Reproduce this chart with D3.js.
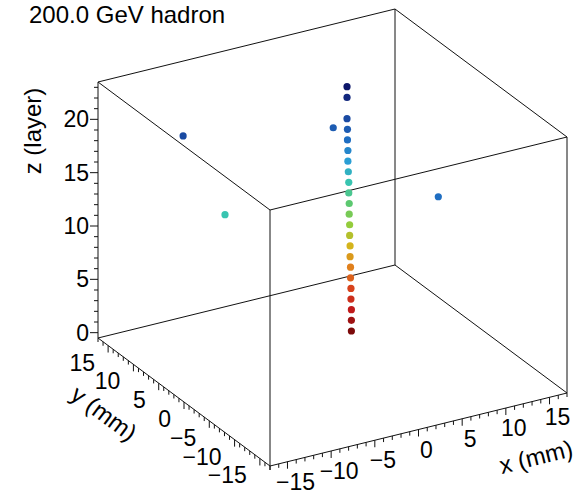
<!DOCTYPE html>
<html>
<head>
<meta charset="utf-8">
<script src="https://cdn.jsdelivr.net/npm/d3@7"></script>
<style>
  body { margin: 0; background: #fff; }
  svg text { font-family: "Liberation Sans", Arial, sans-serif; fill: #000; }
</style>
</head>
<body>
<div id="chart"></div>
<script>
// hits: x (mm), y (mm), z (layer)
const hitX = [5.0, 5.0, 5.0, 4.95, 4.95, 4.9, 4.9, 4.85, 4.85, 4.8, 4.8, 4.75, 4.75, 4.7, 4.7, 4.65, 4.6, 4.6, 4.55, 4.55, 4.5, 4.5, 4.5,
              -11.6, 3.5, 5.8, -9.7]
const hitY = [4.9, 4.9, 4.9, 4.9, 4.9, 4.9, 4.9, 4.9, 4.9, 4.9, 4.9, 4.9, 4.9, 4.9, 4.9, 4.9, 4.9, 4.9, 4.9, 4.9, 4.9, 4.9, 4.9,
              9.5, 5.9, -10.9, 4.5]
const hitZ = [0, 1, 2, 3, 4, 5, 6, 7, 8, 9, 10, 11, 12, 13, 14, 15, 16, 17, 18, 19, 20, 22, 23,
              20, 19, 18, 14]

const xTicks = [-15, -10, -5, 0, 5, 10, 15]
const yTicks = [-15, -10, -5, 0, 5, 10, 15]
const zTicks = [0, 5, 10, 15, 20]

const title = '200.0 GeV hadron'

const width = 582
const height = 494

const svg = d3.select('#chart')
  .append('svg')
  .attr('width', width)
  .attr('height', height)

// axis ranges
const xScale = d3.scaleLinear().domain([-17, 17]).range([0, 1])
const yScale = d3.scaleLinear().domain([-17, 17]).range([0, 1])
const zScale = d3.scaleLinear().domain([-0.5, 23.5]).range([0, 1])

// view: front-bottom-left corner and the screen vectors of each full axis
const origin = [270, 466]
const ex = [297, -73]
const ey = [-172, -128]
const ez = [0, -256]

function proj(x, y, z) {
  const u = xScale(x), v = yScale(y), w = zScale(z)
  return [origin[0] + u * ex[0] + v * ey[0] + w * ez[0],
          origin[1] + u * ex[1] + v * ey[1] + w * ez[1]]
}

const [x0, x1] = xScale.domain()
const [y0, y1] = yScale.domain()
const [z0, z1] = zScale.domain()

// box edges
const corners = []
for (const x of [x0, x1]) for (const y of [y0, y1]) for (const z of [z0, z1]) corners.push([x, y, z])
const edges = []
corners.forEach((a, i) => corners.forEach((b, j) => {
  if (j <= i) return
  const diff = (a[0] !== b[0]) + (a[1] !== b[1]) + (a[2] !== b[2])
  if (diff === 1) edges.push([a, b])
}))

const line = d3.line()
svg.append('g')
  .selectAll('path')
  .data(edges)
  .enter()
  .append('path')
  .attr('d', d => line([proj(...d[0]), proj(...d[1])]))
  .attr('stroke', '#111')
  .attr('stroke-width', 1)
  .attr('fill', 'none')

const axes = svg.append('g').attr('class', 'axes')

// z axis (back-left vertical edge)
d3.range(0, 24).forEach(t => {
  const p = proj(x0, y1, t)
  const major = zTicks.includes(t)
  axes.append('line')
    .attr('x1', p[0]).attr('y1', p[1])
    .attr('x2', p[0] - (major ? 8 : 4)).attr('y2', p[1])
    .attr('stroke', '#111')
})
zTicks.forEach(t => {
  const p = proj(x0, y1, t)
  axes.append('text')
    .attr('x', p[0] - 9)
    .attr('y', p[1] + 8)
    .attr('text-anchor', 'end')
    .attr('font-size', 23)
    .text(d3.format('d')(t))
})

// x axis (front-bottom edge)
d3.range(-17, 18).forEach(t => {
  const p = proj(t, y0, z0)
  const major = xTicks.includes(t)
  axes.append('line')
    .attr('x1', p[0]).attr('y1', p[1])
    .attr('x2', p[0]).attr('y2', p[1] + (major ? 7 : 4))
    .attr('stroke', '#111')
})
xTicks.forEach(t => {
  const p = proj(t, y0, z0)
  axes.append('text')
    .attr('x', p[0] + 8)
    .attr('y', p[1] + 28)
    .attr('text-anchor', 'middle')
    .attr('font-size', 23)
    .text(d3.format('d')(t))
})

// y axis (left-bottom edge)
d3.range(-17, 18).forEach(t => {
  const p = proj(x0, t, z0)
  const major = yTicks.includes(t)
  axes.append('line')
    .attr('x1', p[0]).attr('y1', p[1])
    .attr('x2', p[0]).attr('y2', p[1] + (major ? 7 : 4))
    .attr('stroke', '#111')
})
yTicks.forEach(t => {
  const p = proj(x0, t, z0)
  axes.append('text')
    .attr('x', p[0] - 13)
    .attr('y', p[1] + 25)
    .attr('text-anchor', 'end')
    .attr('font-size', 23)
    .text(d3.format('d')(t))
})

// axis titles
const xAngle = Math.atan2(ex[1], ex[0]) * 180 / Math.PI
const yAngle = Math.atan2(ey[1], ey[0]) * 180 / Math.PI + 180
svg.append('text')
  .attr('transform', `translate(538,465) rotate(${xAngle})`)
  .attr('text-anchor', 'middle')
  .attr('font-size', 24)
  .text('x (mm)')
svg.append('text')
  .attr('transform', `translate(99,420) rotate(${yAngle})`)
  .attr('text-anchor', 'middle')
  .attr('font-size', 24)
  .text('y (mm)')
svg.append('text')
  .attr('transform', 'translate(41,131) rotate(-90)')
  .attr('text-anchor', 'middle')
  .attr('font-size', 24)
  .text('z (layer)')

// title
svg.append('text')
  .attr('x', 29)
  .attr('y', 23)
  .attr('font-size', 24)
  .text(title)

// colour by layer
const colorScale = d3.scaleLinear()
  .domain([0, 2, 4, 6, 8, 10, 12, 14, 16, 18, 20, 23])
  .range(['#7c0a0a', '#c01a1a', '#d8421c', '#e0801c', '#d4b41c', '#94cc3c',
          '#5cc870', '#38c4b0', '#2a9ed4', '#1f6ec2', '#1a4aa2', '#0c166a'])

const hits = hitX.map((x, i) => ({ x: x, y: hitY[i], z: hitZ[i] }))

svg.append('g')
  .selectAll('circle')
  .data(hits)
  .enter()
  .append('circle')
  .attr('cx', d => proj(d.x, d.y, d.z)[0])
  .attr('cy', d => proj(d.x, d.y, d.z)[1])
  .attr('r', 3.6)
  .attr('fill', d => colorScale(d.z))
</script>
</body>
</html>
